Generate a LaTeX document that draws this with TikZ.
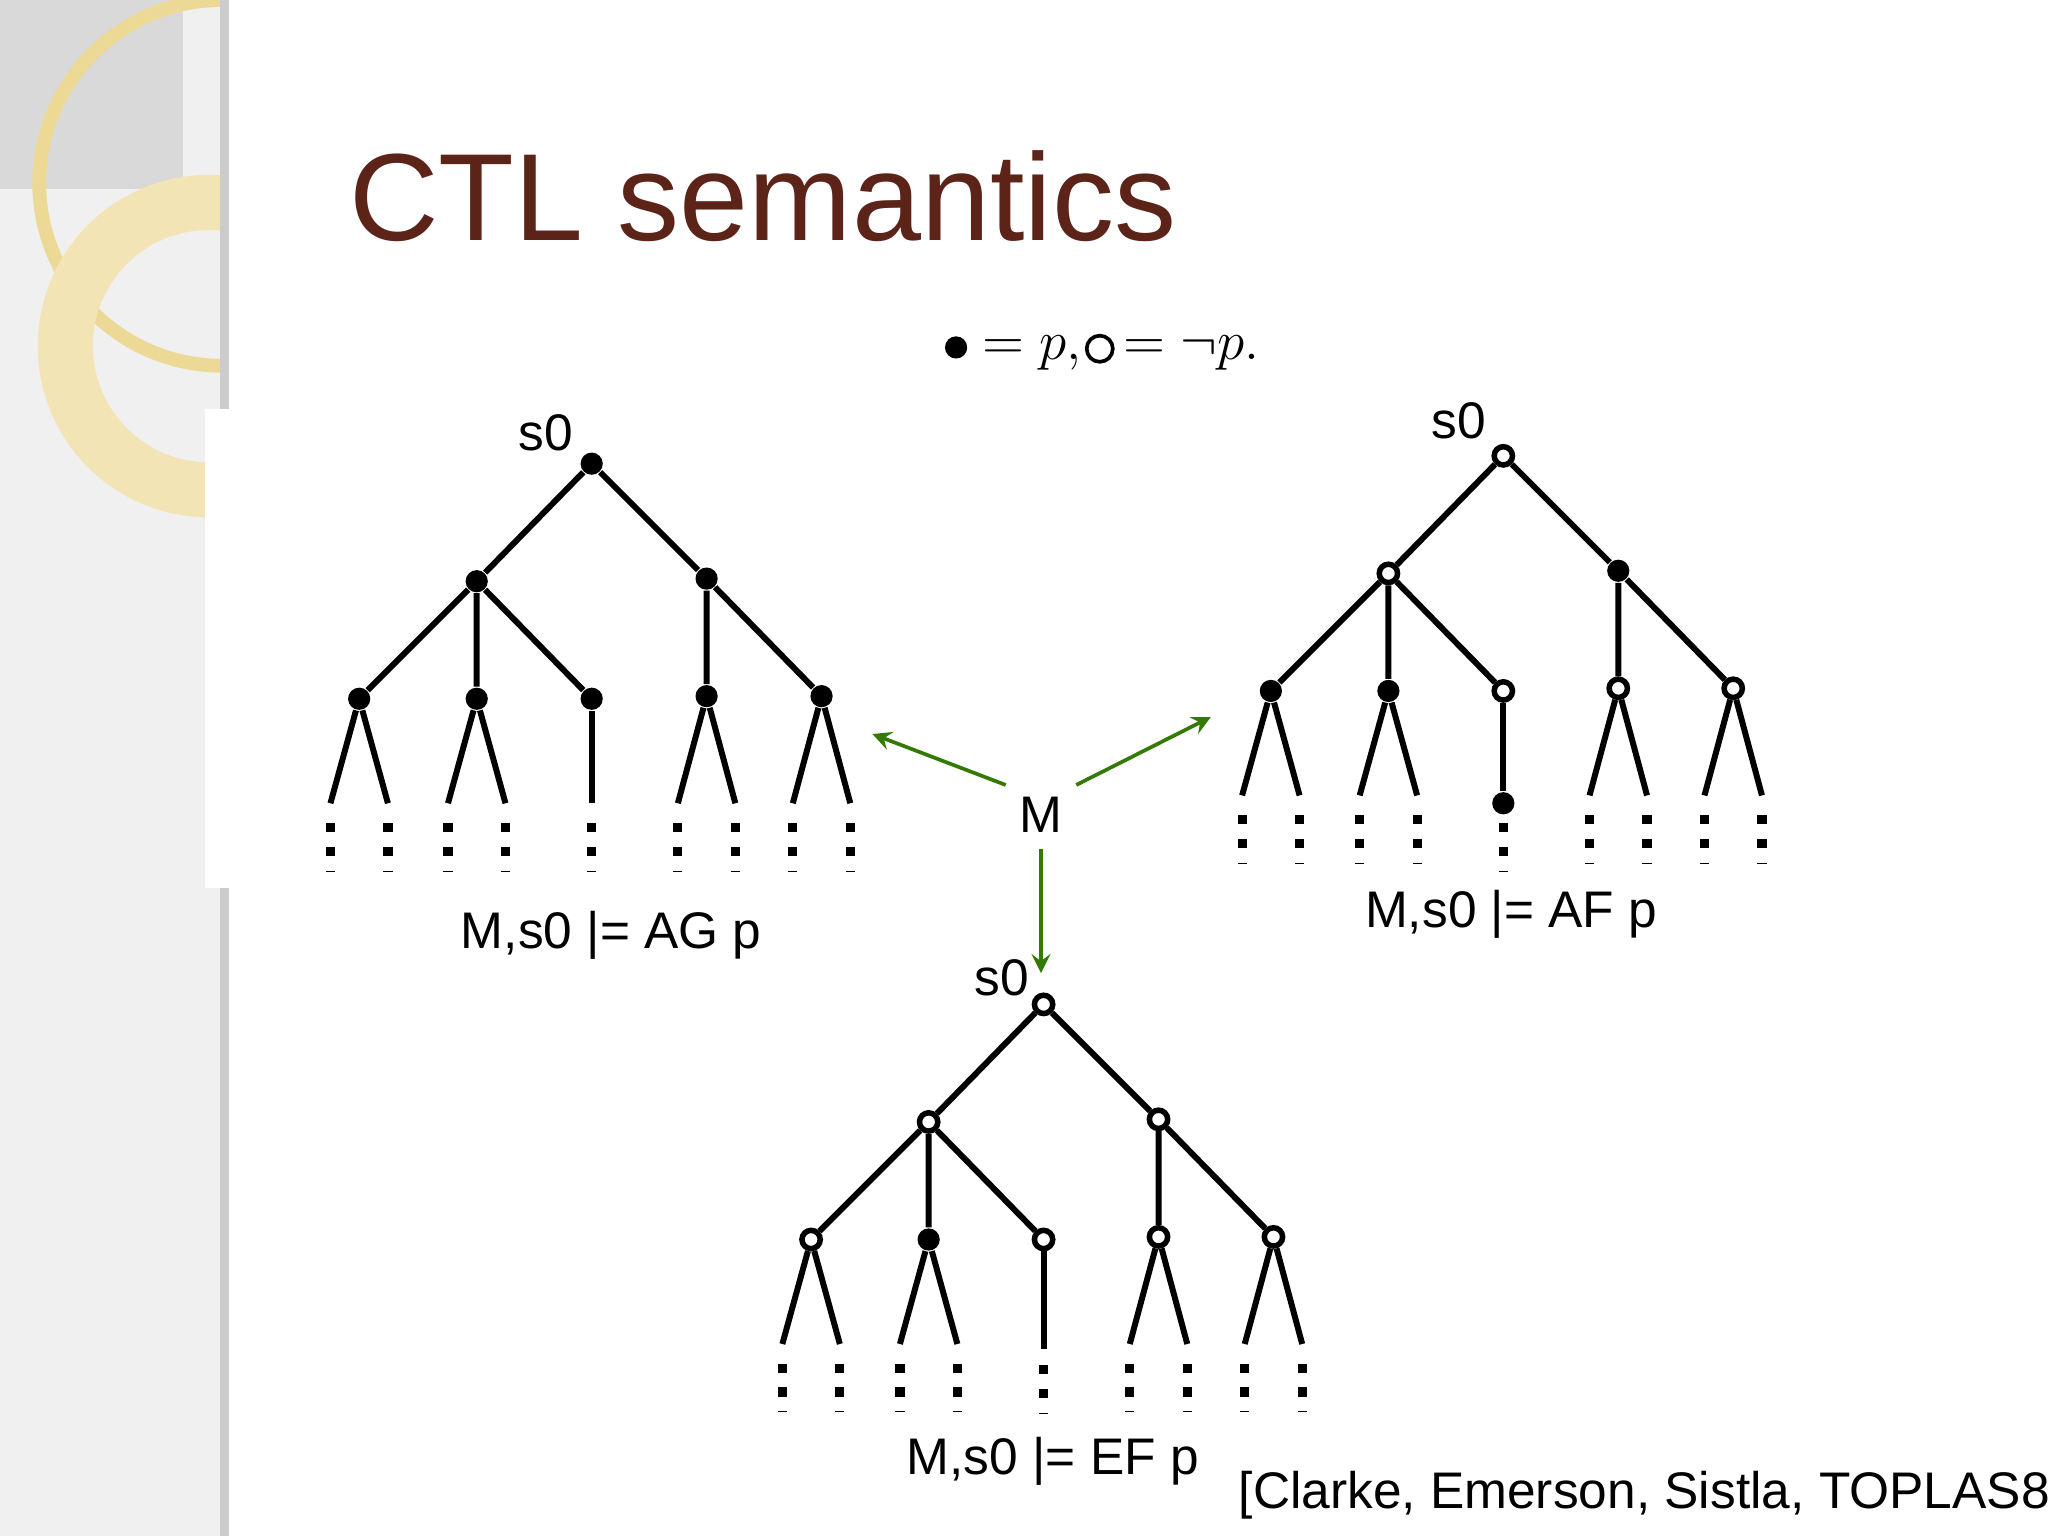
\documentclass[tikz,border=0pt]{standalone}
\usepackage{fontspec}
\setmainfont{Liberation Sans}
\definecolor{titlec}{RGB}{92,35,25}
\begin{document}
\begin{tikzpicture}[x=0.01cm,y=-0.01cm,
  full/.style={circle,fill=black,inner sep=0pt,minimum size=0.17cm},
  hollow/.style={circle,draw=black,fill=white,line width=1.2pt,inner sep=0pt,minimum size=0.14cm},
  edge/.style={line width=1.3pt},
  dots/.style={line width=2pt,dash pattern=on 2pt off 3.2pt},
  garrow/.style={draw=green!35!black!80!yellow,line width=0.8pt,->,>=stealth},
  lbl/.style={font=\fontsize{11.2}{13}\selectfont}]
\useasboundingbox (0,0) rectangle (1568,1176);
\fill[gray!12] (0,0) rectangle (172,1176);
\begin{scope}
\clip (0,0) rectangle (172,1176);
\fill[gray!30] (0,0) rectangle (140,145);
\draw[yellow!40!brown!50,line width=3pt] (170,140) circle (140);
\draw[yellow!40!brown!35,line width=12pt] (160,265) circle (110);
\end{scope}
\fill[white] (157,313) rectangle (172,680);
\draw[gray!40,line width=2pt] (172,0)--(172,313) (172,680)--(172,1176);
\node[anchor=west,text=titlec,font=\fontsize{27}{31}\selectfont] (title) at (255,150) {CTL semantics};
% legend
\node[full] (lg1) at (732,266) {};
\node[anchor=west,font=\large,inner sep=1pt] (lg2) at (748,270) {$=p,$};
\node[hollow,minimum size=0.2cm,line width=0.8pt] (lg3) at (842,267) {};
\node[anchor=west,font=\large,inner sep=1pt] (lg4) at (856,270) {$=\neg p.$};
\newcommand{\mytree}[9]{%
 \begin{scope}[shift={(#1,#2)}]
 \node[#3] (r#9) at (0,0) {};
 \node[#4] (a#9) at (-88,90) {};
 \node[#5] (b#9) at (88,88) {};
 \node[#6] (c#9) at (-178,180) {};
 \node[#7] (d#9) at (-88,180) {};
 \node[#8] (f#9) at (88,178) {};
 \draw[edge] (r#9)--(a#9) (r#9)--(b#9) (a#9)--(c#9) (a#9)--(d#9) (b#9)--(f#9);
 \foreach \n/\xx in {c/-178,d/-88,f/88}{
   \coordinate (\n#9L) at (\xx-22,260); \coordinate (\n#9R) at (\xx+22,260);
   \draw[edge] (\n#9)--(\n#9L) (\n#9)--(\n#9R);
   \draw[dots] (\xx-22,275)--(\xx-22,312) (\xx+22,275)--(\xx+22,312);}
 \end{scope}}
\newcommand{\extra}[5]{%
 \begin{scope}[shift={(#1,#2)}]
 \node[#3] (e#5) at (0,180) {};
 \node[#4] (g#5) at (176,178) {};
 \draw[edge] (a#5)--(e#5) (b#5)--(g#5);
 \coordinate (g#5L) at (154,260); \coordinate (g#5R) at (198,260);
 \draw[edge] (g#5)--(g#5L) (g#5)--(g#5R);
 \draw[dots] (154,275)--(154,312) (198,275)--(198,312);
 \end{scope}}
% AG
\mytree{453}{355}{full}{full}{full}{full}{full}{full}{ag}
\extra{453}{355}{full}{full}{ag}
\draw[edge] (eag)--(453,615); \draw[dots] (453,630)--(453,667);
% AF
\mytree{1151}{349}{hollow}{hollow}{full}{full}{full}{hollow}{af}
\extra{1151}{349}{hollow}{hollow}{af}
\node[full] (afx) at (1151,615) {};
\draw[edge] (eaf)--(afx); \draw[dots] (1151,630)--(1151,667);
% EF
\mytree{799}{769}{hollow}{hollow}{hollow}{hollow}{full}{hollow}{ef}
\extra{799}{769}{hollow}{hollow}{ef}
\draw[edge] (eef)--(799,1033); \draw[dots] (799,1045)--(799,1082);
% labels
\node[lbl] at (418,331) {s0};
\node[lbl] at (1117,322) {s0};
\node[lbl] at (767,749) {s0};
\node[lbl] (lag) at (468,716) {M,s0 |= AG p};
\node[lbl] (laf) at (1157,700) {M,s0 |= AF p};
\node[lbl] (lef) at (806,1119) {M,s0 |= EF p};
\node[lbl,anchor=west] (cite) at (936,1145) {[Clarke, Emerson, Sistla, TOPLAS86]};
\node[lbl] (M) at (797,624) {M};
\coordinate (t1) at (668,562); \coordinate (t2) at (927,549); \coordinate (t3) at (797,745);
\draw[garrow] (770,601)--(t1);
\draw[garrow] (824,601)--(t2);
\draw[garrow] (M)--(t3);
\end{tikzpicture}
\end{document}
